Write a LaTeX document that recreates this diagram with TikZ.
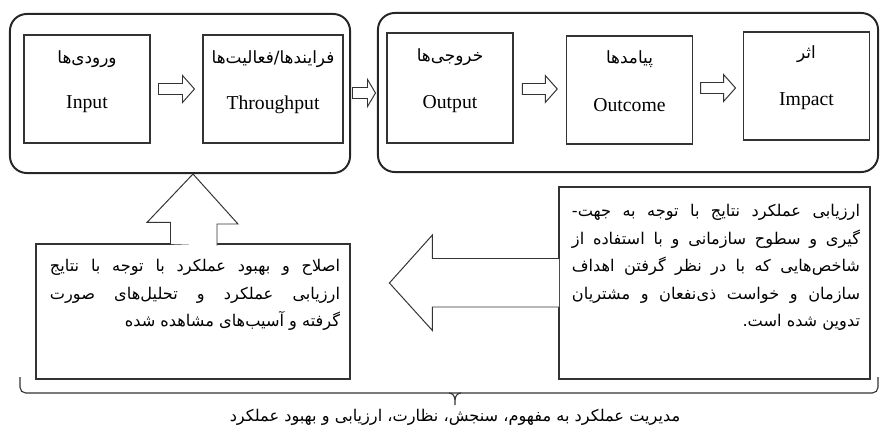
\documentclass[tikz,border=0pt]{standalone}
\usepackage{fontspec}
\setmainfont{Liberation Serif}
\newfontfamily\fafont[Script=Arabic]{DejaVu Sans}
\TeXXeTstate=1
\usetikzlibrary{calc}
\newcommand\fa[1]{{\fafont\beginR #1\endR}}
\newcommand\fapara[1]{\fafont\parindent=0pt\parfillskip=0pt\beginR #1\hfill\endR}
\newcommand\hollowarrow[3]{%
  \draw[hollow] (#1) ++(-#2,-5.5) -- ++(2*#2-#3,0) -- ++(0,-8) -- ++(#3,13.5)
    -- ++(-#3,13.5) -- ++(0,-8) -- ++(-2*#2+#3,0) -- cycle;}
\begin{document}
\begin{tikzpicture}[x=0.025cm,y=-0.025cm,
  stage/.style={draw=black!80,line width=0.8pt,minimum width=3.15cm,minimum height=2.7cm},
  group/.style={draw=black!85,line width=1.4pt,rounded corners=0.42cm,minimum height=3.975cm},
  note/.style={draw=black!80,line width=0.8pt},
  hollow/.style={draw=black!80,line width=0.7pt,fill=white},
  en/.style={font=\fontsize{14}{16}\selectfont},
  falabel/.style={font=\fontsize{12}{14}\fafont},
  fapar/.style={font=\fontsize{11.5}{19.5}\fafont,align=justify,anchor=north,inner sep=0pt}]
\useasboundingbox (0,0) rectangle (880,439);
\node[group,minimum width=8.5cm] (g1) at (180,93.5) {};
\node[group,minimum width=12.5cm] (g2) at (628,92.5) {};
\node[stage] (in) at (87,89) {};
\node[stage,minimum width=3.5cm] (thr) at (273,89) {};
\node[stage,minimum height=2.75cm] (out) at (450,88) {};
\node[stage] (ocm) at (629.5,90) {};
\node[stage] (imp) at (806.5,86) {};
\node[falabel] (inFa) at ($(in.north)+(0,25)$) {\fa{ورودی^^^^200cها}};
\node[en] (inEn) at ($(in.north)+(0,70)$) {Input};
\node[falabel] (thrFa) at ($(thr.north)+(0,25)$) {\fa{فرایندها/فعالیت^^^^200cها}};
\node[en] (thrEn) at ($(thr.north)+(0,70)$) {Throughput};
\node[falabel] (outFa) at ($(out.north)+(0,25)$) {\fa{خروجی^^^^200cها}};
\node[en] (outEn) at ($(out.north)+(0,72)$) {Output};
\node[falabel] (ocmFa) at ($(ocm.north)+(0,24)$) {\fa{پیامدها}};
\node[en] (ocmEn) at ($(ocm.north)+(0,70)$) {Outcome};
\node[falabel] (impFa) at ($(imp.north)+(0,23)$) {\fa{اثر}};
\node[en] (impEn) at ($(imp.north)+(0,70)$) {Impact};
\hollowarrow{$(in.east)!0.5!(thr.west)$}{18}{12}
\hollowarrow{$(g1.east)!0.5!(g2.west)$}{11.5}{8}
\hollowarrow{$(out.east)!0.5!(ocm.west)$}{17.5}{12}
\hollowarrow{$(ocm.east)!0.5!(imp.west)$}{17.5}{12}
\node[note,minimum width=7.85cm,minimum height=3.375cm] (fix) at (193,311.5) {};
\node[note,minimum width=7.775cm,minimum height=4.8cm] (eva) at (714.5,283) {};
\draw[hollow] ($(fix.north)+(-22.5,0.7)$) -- ++(0,-21.7) -- ++(-23.5,0)
  -- (fix.north |- g1.south) -- ++(45,50) -- ++(-21,0) -- ++(0,21.7);
\draw[hollow] ($(eva.west)+(0.7,-24.5)$) -- ++(-126.7,0) -- ++(0,-23.5)
  -- ($(eva.west)+(-169,0)$) -- ++(43,47.5) -- ++(0,-23.5) -- ++(126.7,0);
\node[fapar,text width=7.25cm] (fixTxt) at ($(fix.north)+(2,16)$) {\fapara{%
  اصلاح و بهبود عملکرد با توجه با نتایج\linebreak
  ارزیابی عملکرد و تحلیل^^^^200cهای صورت\linebreak
  گرفته و آسیب^^^^200cهای مشاهده شده}};
\node[fapar,text width=7.2cm] (evaTxt) at ($(eva.north)+(1.5,18)$) {\fapara{%
  ارزیابی عملکرد نتایج با توجه به جهت-\linebreak
  گیری و سطوح سازمانی و با استفاده از\linebreak
  شاخص^^^^200cهایی که با در نظر گرفتن اهداف\linebreak
  سازمان و خواست ذی^^^^200cنفعان و مشتریان\linebreak
  تدوین شده است.}};
\coordinate (bt) at (455,405);
\draw[draw=black!80,line width=0.8pt,rounded corners=4] (20,377) -- (20,393) -- (878,393) -- (878,377);
\draw[draw=black!80,line width=0.8pt] (449,393) to[out=0,in=90] (bt |- 0,400) -- (bt);
\draw[draw=black!80,line width=0.8pt] (461,393) to[out=180,in=90] (bt |- 0,400);
\node[font=\fontsize{11.5}{14}\fafont] (mgmt) at ($(bt)+(0,12)$) {\fa{مدیریت عملکرد به مفهوم، سنجش، نظارت، ارزیابی و بهبود عملکرد}};
\end{tikzpicture}
\end{document}
